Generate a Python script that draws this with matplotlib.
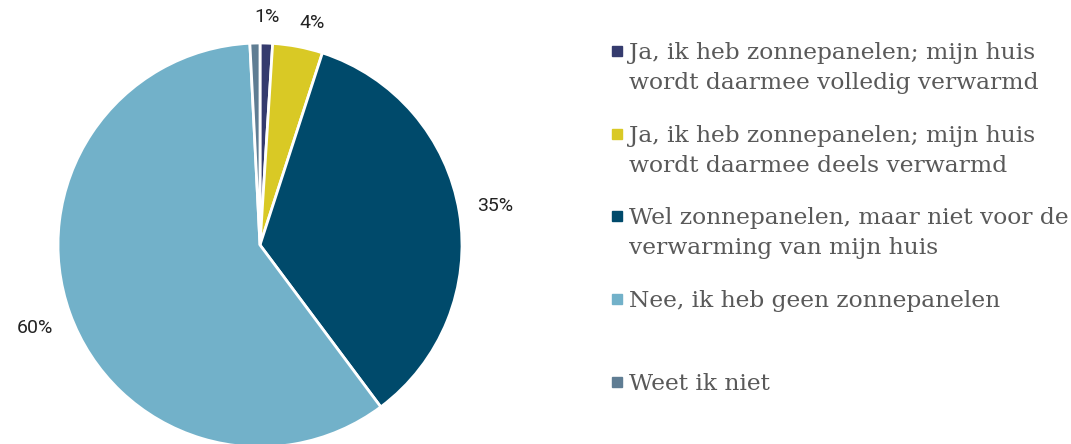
import matplotlib
matplotlib.use("Agg")
import matplotlib.pyplot as plt
from matplotlib.patches import Rectangle
import numpy as np

categories = ["Ja, ik heb zonnepanelen; mijn huis\nwordt daarmee volledig verwarmd",
              "Ja, ik heb zonnepanelen; mijn huis\nwordt daarmee deels verwarmd",
              "Wel zonnepanelen, maar niet voor de\nverwarming van mijn huis",
              "Nee, ik heb geen zonnepanelen",
              "Weet ik niet"]
shares = [1.0, 4.0, 34.8, 59.4, 0.8]
pct_labels = ["1%", "4%", "35%", "60%", ""]
colors = ["#353B6E", "#D9C925", "#004A6B", "#72B1C9", "#5F7D93"]

W, H = 1071, 444
fig = plt.figure(figsize=(W / 100, H / 100), dpi=100)

# pie: centre (260, 245) px, radius 202 px
cx, cy, r = 260, 245, 202
ax = fig.add_axes([(cx - r) / W, (H - cy - r) / H, 2 * r / W, 2 * r / H])
wedges, _ = ax.pie(shares, colors=colors, startangle=90, counterclock=False,
                   radius=1.0, wedgeprops=dict(edgecolor="white", linewidth=2.0))
ax.set_xlim(-1, 1); ax.set_ylim(-1, 1); ax.set_aspect("equal")
ax.axis("off")

# label distance (in radii) and small angular nudge (deg) per slice
dist = [1.13, 1.13, 1.18, 1.19, 1.15]
nudge = [0, -2.5, 0, 0.5, 0]
for w, lab, d, dn in zip(wedges, pct_labels, dist, nudge):
    if not lab:
        continue
    ang = np.deg2rad((w.theta1 + w.theta2) / 2 + dn)
    ax.text(d * np.cos(ang), d * np.sin(ang), lab, ha="center", va="center",
            fontsize=14, color="#222222", family="Roboto", clip_on=False)

# legend drawn by hand, line by line; marker sits on the first line
base0, step, lead = 59, 82.7, 30
for i, (lab, c) in enumerate(zip(categories, colors)):
    base = base0 + i * step
    fig.patches.append(Rectangle((612 / W, (H - base + 3) / H), 10 / W, 10 / H,
                                 transform=fig.transFigure, color=c))
    for k, line in enumerate(lab.split("\n")):
        fig.text(629 / W, (H - base - k * lead) / H, line, ha="left", va="baseline",
                 family=["DejaVu Serif", "Liberation Serif"], fontsize=16.8,
                 color="#595959")

fig.savefig("out.png", dpi=100)
